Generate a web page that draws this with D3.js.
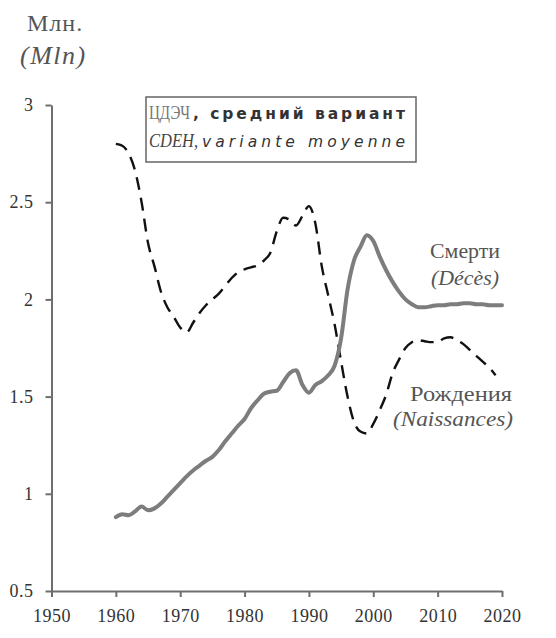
<!DOCTYPE html>
<html>
<head>
<meta charset="utf-8">
<script src="https://cdn.jsdelivr.net/npm/d3@7"></script>
<style>
  html, body { margin: 0; padding: 0; background: #fff; }
  svg { display: block; }
  .axis path, .axis line { stroke: #6e6e6e; stroke-width: 2; }
  .axis text { font-family: "Liberation Serif", serif; font-size: 18px; fill: #333; letter-spacing: 0.5px; }
</style>
</head>
<body>
<svg class="chart"></svg>
<script>
// data
const deathYears = d3.range(1960, 2021);
const deathValues = [
  0.88, 0.895, 0.89, 0.91, 0.935, 0.915, 0.925, 0.95, 0.985, 1.02,
  1.055, 1.09, 1.12, 1.145, 1.17, 1.19, 1.225, 1.27, 1.31, 1.35,
  1.385, 1.44, 1.48, 1.515, 1.525, 1.53, 1.575, 1.62, 1.635, 1.56,
  1.52, 1.56, 1.58, 1.61, 1.66, 1.80, 2.05, 2.20, 2.27, 2.33,
  2.30, 2.22, 2.15, 2.09, 2.04, 2.00, 1.975, 1.96, 1.96, 1.965,
  1.97, 1.97, 1.975, 1.975, 1.98, 1.98, 1.975, 1.975, 1.97, 1.97,
  1.97
];
const birthYears = d3.range(1960, 2020);
const birthValues = [
  2.80, 2.79, 2.75, 2.66, 2.50, 2.29, 2.17, 2.04, 1.96, 1.91,
  1.855, 1.83, 1.88, 1.93, 1.97, 2.00, 2.03, 2.07, 2.11, 2.14,
  2.155, 2.165, 2.175, 2.20, 2.24, 2.35, 2.42, 2.41, 2.38, 2.43,
  2.48, 2.39, 2.17, 2.02, 1.87, 1.68, 1.50, 1.37, 1.32, 1.31,
  1.36, 1.43, 1.51, 1.62, 1.69, 1.75, 1.78, 1.79, 1.785, 1.78,
  1.78, 1.80, 1.805, 1.79, 1.77, 1.74, 1.71, 1.68, 1.65, 1.61
];
const xTicks = [1950, 1960, 1970, 1980, 1990, 2000, 2010, 2020];
const yTicks = [0.5, 1, 1.5, 2, 2.5, 3];

function drawChart() {
  const svg = d3.select(".chart").attr("width", 556).attr("height", 638);

  const x = d3.scaleLinear().domain([1950, 2020]).range([51.5, 502]);
  const y = d3.scaleLinear().domain([0.5, 3]).range([591, 105]);

  // axes
  svg.append("g")
    .attr("class", "axis")
    .attr("transform", "translate(0,591)")
    .call(d3.axisBottom(x).tickValues(xTicks).tickFormat(d3.format("d"))
      .tickSize(6).tickSizeOuter(0).tickPadding(12));

  svg.append("g")
    .attr("class", "axis")
    .attr("transform", "translate(51.5,0)")
    .call(d3.axisLeft(y).tickValues(yTicks).tickFormat(d => String(d))
      .tickSize(6).tickSizeOuter(0).tickPadding(12));

  // unit title
  svg.append("text")
    .attr("x", 27).attr("y", 31)
    .style("font-family", "Liberation Serif, serif")
    .style("font-size", "24px")
    .style("letter-spacing", "1px")
    .attr("fill", "#555")
    .text("Млн.");

  svg.append("text")
    .attr("x", 20).attr("y", 64)
    .style("font-family", "Liberation Serif, serif")
    .style("font-size", "26px")
    .style("letter-spacing", "1.5px")
    .style("font-style", "italic")
    .attr("fill", "#555")
    .text("(Mln)");

  // lines
  const deaths = deathYears.map((yr, i) => ({ year: yr, value: deathValues[i] }));
  const births = birthYears.map((yr, i) => ({ year: yr, value: birthValues[i] }));

  const line = d3.line()
    .x(d => x(d.year))
    .y(d => y(d.value))
    .curve(d3.curveMonotoneX);

  svg.append("path")
    .datum(births)
    .attr("d", line)
    .attr("fill", "none")
    .attr("stroke", "#111")
    .attr("stroke-width", 2.4)
    .attr("stroke-dasharray", "13,8");

  svg.append("path")
    .datum(deaths)
    .attr("d", line)
    .attr("fill", "none")
    .attr("stroke", "#7d7d7d")
    .attr("stroke-width", 4)
    .attr("stroke-linejoin", "round")
    .attr("stroke-linecap", "round");

  // legend box
  svg.append("rect")
    .attr("x", 146).attr("y", 97)
    .attr("width", 270).attr("height", 65)
    .attr("fill", "#fff")
    .attr("stroke", "#666")
    .attr("stroke-width", 1.5);

  svg.append("text")
    .attr("transform", "translate(149,119) scale(1,1.25)")
    .style("font-family", "Liberation Serif, serif")
    .style("font-size", "15px")
    .attr("fill", "#777")
    .text("ЦДЭЧ");
  svg.append("text")
    .attr("x", 193).attr("y", 119)
    .attr("textLength", 212).attr("lengthAdjust", "spacing")
    .style("font-family", "DejaVu Sans, sans-serif")
    .style("font-size", "15.5px")
    .style("font-weight", "bold")
    .attr("fill", "#333")
    .text(", средний вариант");
  svg.append("text")
    .attr("transform", "translate(149,147) scale(1,1.2)")
    .style("font-family", "Liberation Serif, serif")
    .style("font-size", "16.5px")
    .style("font-style", "italic")
    .attr("fill", "#444")
    .text("CDEH,");
  svg.append("text")
    .attr("x", 202).attr("y", 147)
    .attr("textLength", 203).attr("lengthAdjust", "spacing")
    .style("font-family", "DejaVu Sans, sans-serif")
    .style("font-size", "15.5px")
    .style("font-style", "italic")
    .attr("fill", "#333")
    .text("variante moyenne");

  // series labels
  const labels = [
    { text: "Смерти", x: 430, y: 258, w: 70, italic: false },
    { text: "(Décès)", x: 431, y: 285, w: 68, italic: true },
    { text: "Рождения", x: 410, y: 401, w: 102, italic: false },
    { text: "(Naissances)", x: 393, y: 426, w: 120, italic: true }
  ];
  svg.selectAll(".series-label")
    .data(labels)
    .enter().append("text")
    .attr("class", "series-label")
    .attr("x", d => d.x).attr("y", d => d.y)
    .attr("textLength", d => d.w).attr("lengthAdjust", "spacingAndGlyphs")
    .style("font-family", "Liberation Serif, serif")
    .style("font-size", "20px")
    .style("font-style", d => d.italic ? "italic" : "normal")
    .attr("fill", "#555")
    .text(d => d.text);
}

drawChart();
</script>
</body>
</html>
